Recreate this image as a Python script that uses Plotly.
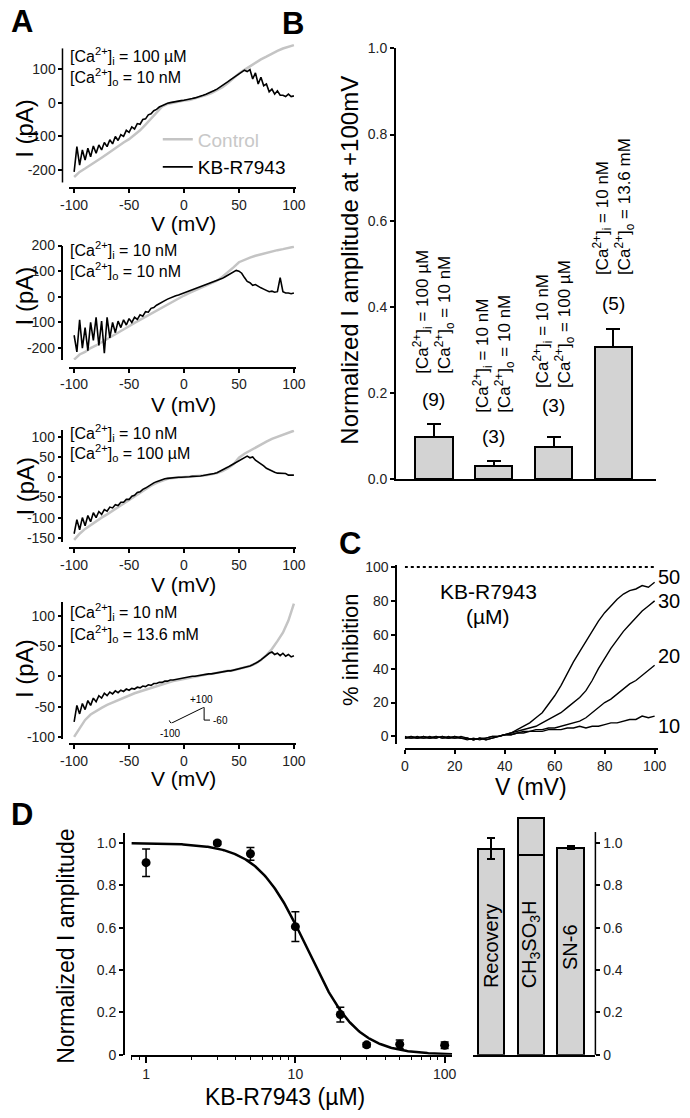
import numpy as np
import plotly.graph_objects as go

W, H = 690, 1118
FONT = "Liberation Sans, Arial, Helvetica, sans-serif"


def fx(p):
    return p / W


def fy(p):
    return 1 - p / H


# ------------------------------------------------------------------ data
# Panel A : I-V curves (control every 5 mV, KB-R7943 every 2.5 mV)
v_ctrl = [-100, -95, -90, -85, -80, -75, -70, -65, -60, -55, -50, -45, -40, -35, -30, -25, -20,
          -15, -10, -5, 0, 5, 10, 15, 20, 25, 30, 35, 40, 45, 50, 55, 60, 65, 70, 75, 80, 85, 90, 95, 100]
v_kb = [-100 + 2.5 * i for i in range(81)]

a1_ctrl = [-220, -205, -195, -185, -175, -163, -152, -140, -130, -118, -108, -95, -82, -65, -48, -28, -12,
           -4, 0, 3, 6, 8, 12, 16, 22, 28, 36, 46, 58, 72, 86, 97, 108, 118, 128, 136, 145, 153, 160, 166, 170]
a1_kb = [-205, -130, -185, -140, -170, -135, -160, -128, -150, -125, -140, -118, -130, -110, -122, -100,
         -112, -95, -100, -82, -88, -72, -78, -62, -64, -50, -48, -36, -33, -24, -20, -13, -9, -5, -2, 0,
         2, 3, 5, 6, 7, 8, 10, 12, 14, 16, 18, 22, 25, 28, 32, 36, 40, 45, 50, 56, 62, 68, 74, 80, 86,
         90, 96, 92, 98, 70, 88, 55, 75, 50, 55, 32, 40, 25, 35, 22, 22, 18, 25, 18, 20]

a2_ctrl = [-245, -225, -215, -200, -190, -178, -165, -152, -140, -127, -115, -102, -90, -77, -64, -52, -40,
           -28, -17, -6, 5, 15, 25, 34, 44, 53, 63, 78, 95, 115, 135, 145, 153, 160, 166, 172, 177, 182,
           186, 190, 195]
a2_kb = [-150, -215, -90, -200, -120, -210, -100, -170, -80, -190, -95, -220, -80, -160, -100, -140, -95,
         -120, -90, -110, -85, -100, -80, -88, -70, -76, -58, -60, -45, -42, -33, -28, -20, -15, -9, -4,
         0, 4, 7, 11, 15, 19, 23, 27, 31, 35, 39, 43, 47, 51, 55, 58, 62, 66, 72, 78, 85, 92, 98, 103,
         100, 92, 75, 60, 55, 45, 48, 40, 35, 30, 25, 20, 22, 18, 20, 75, 20, 15, 15, 12, 15]

a3_ctrl = [-155, -140, -128, -118, -110, -100, -92, -83, -74, -65, -57, -47, -38, -29, -21, -14, -8,
           -4, -2, -1, 0, 1, 2, 3, 5, 7, 10, 15, 22, 32, 48, 58, 66, 74, 82, 88, 95, 100, 105, 110, 115]
a3_kb = [-140, -105, -130, -100, -120, -95, -110, -88, -100, -85, -92, -80, -84, -74, -76, -68, -70,
         -62, -62, -55, -55, -47, -45, -38, -36, -30, -27, -22, -18, -14, -11, -8, -6, -4, -3, -2, -1,
         -1, 0, 0, 0, 1, 1, 2, 2, 3, 3, 4, 5, 6, 7, 9, 11, 14, 17, 21, 25, 29, 33, 37, 40, 44, 47, 52,
         48, 50, 42, 38, 32, 28, 22, 18, 15, 12, 10, 10, 10, 9, 5, 5, 5]

a4_ctrl = [-100, -85, -72, -63, -57, -52, -47, -43, -39, -35, -31, -28, -25, -22, -19, -16, -13, -11,
           -8, -6, -4, -2, 0, 1, 3, 4, 6, 7, 9, 10, 12, 14, 17, 21, 27, 35, 45, 58, 72, 92, 120]
a4_kb = [-75, -48, -62, -45, -55, -40, -48, -36, -42, -32, -36, -28, -32, -26, -29, -24, -27, -23, -25,
         -21, -23, -20, -21, -18, -19, -16, -17, -14, -15, -12, -12, -10, -10, -8, -8, -6, -6, -5, -4,
         -3, -3, -2, -1, 0, 0, 1, 2, 2, 3, 4, 4, 5, 6, 6, 7, 8, 9, 9, 10, 11, 12, 13, 14, 16, 17, 19,
         21, 24, 27, 31, 35, 38, 40, 36, 38, 34, 38, 33, 36, 32, 34]

# voltage protocol inset (ms, mV)
prot_t = [0, 10, 150, 150, 175]
prot_v = [-60, -100, 100, -60, -60]

# Panel B : normalized amplitude at +100 mV
b_vals = [0.098, 0.030, 0.075, 0.307]
b_err = [0.031, 0.013, 0.023, 0.041]
b_n = ["(9)", "(3)", "(3)", "(5)"]
b_labels = [
    "[Ca<sup>2+</sup>]<sub>i</sub> = 100 µM<br>[Ca<sup>2+</sup>]<sub>o</sub> = 10 nM",
    "[Ca<sup>2+</sup>]<sub>i</sub> = 10 nM<br>[Ca<sup>2+</sup>]<sub>o</sub> = 10 nM",
    "[Ca<sup>2+</sup>]<sub>i</sub> = 10 nM<br>[Ca<sup>2+</sup>]<sub>o</sub> = 100 µM",
    "[Ca<sup>2+</sup>]<sub>i</sub> = 10 nM<br>[Ca<sup>2+</sup>]<sub>o</sub> = 13.6 mM",
]

# Panel C : % inhibition vs V (every 2.5 mV)
c_v = [2.5 * i for i in range(41)]
c_50 = [-1, 0, -1, -1, 0, -1, 0, -1, 0, -1, -1, -2, -1, -2, -1, 0, 1, 2, 4, 6, 8, 11, 14, 19, 24, 30,
        37, 44, 50, 56, 62, 68, 73, 77, 81, 84, 86, 87, 89, 88, 91]
c_30 = [-1, -1, 0, -1, -1, 0, -1, 0, -1, -1, -2, -1, -2, -1, 0, 0, 1, 2, 3, 4, 5, 6, 8, 10, 12, 14,
        17, 20, 23, 27, 33, 40, 46, 52, 57, 62, 66, 70, 74, 77, 80]
c_20 = [0, -1, -1, 0, -1, -1, 0, -1, -1, 0, -1, -2, -1, -2, -1, 0, 1, 1, 2, 3, 3, 4, 4, 5, 5, 6,
        7, 8, 9, 11, 14, 17, 20, 22, 25, 28, 31, 33, 36, 39, 42]
c_10 = [-1, 0, -1, 0, -1, 0, -1, -1, 0, -1, -1, -2, -1, -1, 0, 0, 1, 1, 2, 2, 3, 3, 3, 4, 4, 4,
        5, 5, 6, 5, 6, 6, 7, 8, 8, 9, 10, 10, 12, 11, 12]
c_conc = ["50", "30", "20", "10"]

# Panel D : dose response
d_conc = [1, 3, 5, 10, 20, 30, 50, 100]
d_amp = [0.907, 1.0, 0.949, 0.605, 0.19, 0.047, 0.05, 0.045]
d_err = [0.065, 0.008, 0.03, 0.07, 0.035, 0.01, 0.02, 0.015]
IC50, N_HILL = 12.0, 2.6

d2_names = ["Recovery", "CH<sub>3</sub>SO<sub>3</sub>H", "SN-6"]
d2_vals = [0.972, 0.944, 0.977]
d2_extra = [None, 0.172, None]
d2_err = [0.05, 0, 0.008]

GRAY_FILL = "#d3d3d3"
CTRL = "#c4c4c4"

# ------------------------------------------------------------------ figure
fig = go.Figure()

tickfont = dict(size=14, family=FONT, color="#222")


def axis(**kw):
    base = dict(showgrid=False, zeroline=False, showline=True, linecolor="black", linewidth=1.5,
                ticks="outside", ticklen=4, tickwidth=1.5, tickcolor="black", tickfont=tickfont)
    base.update(kw)
    return base


ax_x_ticks = [-100, -50, 0, 50, 100]
ax_x_text = ["-100", "-50", "0", "50", "100"]

# A panels geometry: (y top px, y bottom px, y zero px, px per unit, x-axis px, yticks)
A = [
    (36, 177, 96, 0.343, 183, [-200, -100, 0, 100], a1_ctrl, a1_kb),
    (241, 357, 293, 0.26, 365, [-200, -100, 0, 100, 200], a2_ctrl, a2_kb),
    (428, 542, 476, 0.41, 548, [-150, -100, -50, 0, 50, 100], a3_ctrl, a3_kb),
    (603, 742, 678, 0.615, 747, [-100, -50, 0, 50, 100], a4_ctrl, a4_kb),
]
layout_axes = {}
for i, (yt, yb, y0, s, xl, yt_vals, ctrl, kb) in enumerate(A):
    n = i + 1
    xa = "x" if n == 1 else f"x{n}"
    ya = "y" if n == 1 else f"y{n}"
    layout_axes["xaxis" if n == 1 else f"xaxis{n}"] = axis(
        domain=[fx(62), fx(295)], anchor="free", position=fy(xl), range=[-104.4, 101.8],
        tickvals=ax_x_ticks, ticktext=ax_x_text)
    layout_axes["yaxis" if n == 1 else f"yaxis{n}"] = axis(
        domain=[fy(yb), fy(yt)], anchor="free", position=fx(55),
        range=[-(yb - y0) / s, (y0 - yt) / s], tickvals=yt_vals,
        ticktext=[str(v) for v in yt_vals], showline=(n != 1))
    fig.add_trace(go.Scatter(x=v_ctrl, y=ctrl, mode="lines", xaxis=xa, yaxis=ya,
                             line=dict(color=CTRL, width=2.5),
                             name="<span style='color:#c8c8c8'>Control</span>", showlegend=(n == 1)))
    fig.add_trace(go.Scatter(x=v_kb, y=kb, mode="lines", xaxis=xa, yaxis=ya,
                             line=dict(color="black", width=1.6),
                             name="KB-R7943", showlegend=(n == 1)))

# protocol inset
layout_axes["xaxis5"] = dict(domain=[fx(164.3), fx(206.7)], anchor="y5", range=[0, 175], visible=False)
layout_axes["yaxis5"] = dict(domain=[fy(725.7), fy(709.3)], anchor="x5", range=[-100, 100], visible=False)
fig.add_trace(go.Scatter(x=prot_t, y=prot_v, mode="lines", xaxis="x5", yaxis="y5",
                         line=dict(color="black", width=1), showlegend=False))

# Panel B
layout_axes["xaxis6"] = axis(domain=[fx(398), fx(665)], anchor="y6", range=[-0.634, 3.707],
                             ticks="", showticklabels=False, linewidth=2)
layout_axes["yaxis6"] = axis(domain=[fy(478), fy(41)], anchor="x6", range=[0, 1.0],
                             tickvals=[0, 0.2, 0.4, 0.6, 0.8, 1.0], tickformat=".1f", linewidth=2)
fig.add_trace(go.Bar(x=[0, 1, 2, 3], y=b_vals, width=0.62, xaxis="x6", yaxis="y6",
                     marker=dict(color=GRAY_FILL, line=dict(color="black", width=2)),
                     error_y=dict(type="data", symmetric=False, array=b_err, arrayminus=[0] * 4,
                                  color="black", thickness=2, width=7),
                     showlegend=False))

# Panel C
layout_axes["xaxis7"] = axis(domain=[fx(407), fx(667)], anchor="free", position=fy(752),
                             range=[0, 101.2], tickvals=[0, 20, 40, 60, 80, 100])
layout_axes["yaxis7"] = axis(domain=[fy(747), fy(565)], anchor="free", position=fx(398),
                             range=[-4.65, 101.2], tickvals=[0, 20, 40, 60, 80, 100])
fig.add_trace(go.Scatter(x=[0, 100], y=[100, 100], mode="lines", xaxis="x7", yaxis="y7",
                         line=dict(color="black", width=2, dash="dot"), showlegend=False))
for ys in (c_10, c_20, c_30, c_50):
    fig.add_trace(go.Scatter(x=c_v, y=ys, mode="lines", xaxis="x7", yaxis="y7",
                             line=dict(color="black", width=1.4), showlegend=False))

# Panel D left (log)
layout_axes["xaxis8"] = axis(type="log", domain=[fx(125), fx(456)], anchor="free", position=fy(1063),
                             range=[-0.104, 2.052], tickvals=[1, 10, 100], ticktext=["1", "10", "100"],
                             ticklen=6,
                             minor=dict(ticks="outside", ticklen=3, tickwidth=1.2, tickcolor="black",
                                        tickvals=[0.8, 0.9, 2, 3, 4, 5, 6, 7, 8, 9,
                                                  20, 30, 40, 50, 60, 70, 80, 90]))
layout_axes["yaxis8"] = axis(domain=[fy(1062), fy(837)], anchor="free", position=fx(118),
                             range=[0, 1.047], tickvals=[0, 0.2, 0.4, 0.6, 0.8, 1.0],
                             ticktext=["0", "0.2", "0.4", "0.6", "0.8", "1.0"])
fit_x = np.logspace(np.log10(0.8), np.log10(112), 300)
fit_y = 1.0 / (1.0 + (fit_x / IC50) ** N_HILL)
fig.add_trace(go.Scatter(x=fit_x, y=fit_y, mode="lines", xaxis="x8", yaxis="y8",
                         line=dict(color="black", width=2.5), showlegend=False))
fig.add_trace(go.Scatter(x=d_conc, y=d_amp, mode="markers", xaxis="x8", yaxis="y8",
                         marker=dict(color="black", size=9),
                         error_y=dict(type="data", array=d_err, color="black", thickness=1.5, width=4),
                         showlegend=False))

# Panel D right
layout_axes["xaxis9"] = axis(domain=[fx(477), fx(603)], anchor="y9", range=[-0.45, 2.62],
                             ticks="", showticklabels=False, linewidth=2)
layout_axes["yaxis9"] = axis(domain=[fy(1062), fy(820)], anchor="free", position=fx(603), side="right",
                             range=[0, 1.1256], tickvals=[0, 0.2, 0.4, 0.6, 0.8, 1.0],
                             ticktext=["0", "0.2", "0.4", "0.6", "0.8", "1.0"], showline=False)
fig.add_trace(go.Bar(x=[0, 1, 2], y=d2_vals, width=0.66, xaxis="x9", yaxis="y9",
                     marker=dict(color=GRAY_FILL, line=dict(color="black", width=2)),
                     error_y=dict(type="data", array=d2_err, color="black", thickness=2, width=4),
                     showlegend=False))
fig.add_trace(go.Bar(x=[0, 1, 2], y=d2_extra, width=0.66, xaxis="x9", yaxis="y9",
                     marker=dict(color=GRAY_FILL, line=dict(color="black", width=2)),
                     showlegend=False))

# ------------------------------------------------------------------ annotations
anns = []


def ann(text, x, y, size, xref="paper", yref="paper", **kw):
    d = dict(text=text, x=fx(x) if xref == "paper" else x, y=fy(y) if yref == "paper" else y,
             xref=xref, yref=yref, showarrow=False, xanchor="center", yanchor="middle",
             font=dict(size=size, family=FONT, color=kw.pop("color", "black")))
    d.update(kw)
    anns.append(d)


# panel letters
for L, (lx, ly) in zip("ABCD", [(13, 14), (292, 16), (351, 543), (13, 818)]):
    ann(f"<b>{L}</b>", lx, ly, 31)

# A condition labels & titles
ca_i = ["100 µM", "10 nM", "10 nM", "10 nM"]
ca_o = ["10 nM", "10 nM", "100 µM", "13.6 mM"]
ca_y = [(49, 70), (246, 267), (431, 451), (613, 635)]
vt_y = [219, 402, 585, 782]
it_y = [122, 292, 485, 670]
for i in range(4):
    ann(f"[Ca<sup>2+</sup>]<sub>i</sub> = {ca_i[i]}", 61, ca_y[i][0], 16, xanchor="left")
    ann(f"[Ca<sup>2+</sup>]<sub>o</sub> = {ca_o[i]}", 61, ca_y[i][1], 16, xanchor="left")
    ann("V (mV)", 179, vt_y[i], 21)
    ann("I (pA)", 16, it_y[i], 24, textangle=-90)

# protocol labels
ann("+100", 198, 702, 10)
ann("-60", 218, 723, 10)
ann("-100", 166, 736, 10)

# B
ann("Normalized I amplitude at +100mV", 350, 256, 24, textangle=-90)
b_text_bottom = [0.240, 0.149, 0.206, 0.469]
b_n_y = [0.185, 0.098, 0.172, 0.407]
for i in range(4):
    ann(b_labels[i], i, b_text_bottom[i], 17, xref="x6", yref="y6", textangle=-90,
        xanchor="center", yanchor="bottom", align="left")
    ann(b_n[i], i, b_n_y[i], 19, xref="x6", yref="y6")

# C
ann("% inhibition", 351, 651, 22, textangle=-90)
ann("V (mV)", 537, 790, 23)
ann("KB-R7943", 493, 592, 21)
ann("(µM)", 493, 617, 21)
for lab, yy in zip(c_conc, [577, 602, 657, 728]):
    ann(lab, 679, yy, 20)

# D
ann("Normalized I amplitude", 59, 952, 23, textangle=-90)
ann("KB-R7943 (µM)", 284, 1105, 23)
for i, yy in enumerate([0.512, 0.52, 0.507]):
    ann(d2_names[i], i, yy, 20, xref="x9", yref="y9", textangle=-90)

shapes = [
    dict(type="line", xref="paper", yref="paper", x0=fx(55), x1=fx(55), y0=fy(41), y1=fy(177),
         line=dict(color="black", width=1.5)),
    dict(type="line", xref="paper", yref="paper", x0=fx(603), x1=fx(603), y0=fy(836), y1=fy(1062),
         line=dict(color="black", width=1.5)),
]

fig.update_layout(
    width=W, height=H, margin=dict(l=0, r=0, t=0, b=0),
    paper_bgcolor="white", plot_bgcolor="rgba(0,0,0,0)",
    font=dict(family=FONT, color="black"),
    barmode="stack",
    annotations=anns, shapes=shapes,
    legend=dict(x=fx(153), y=fy(114), xanchor="left", yanchor="top", bgcolor="rgba(0,0,0,0)",
                traceorder="normal",
                font=dict(size=19, family=FONT, color="black"), itemwidth=30, tracegroupgap=0),
    **layout_axes,
)

fig.write_html("out.html", config={"displayModeBar": False},
               post_script="document.body.style.margin='0';document.body.style.padding='0';")
